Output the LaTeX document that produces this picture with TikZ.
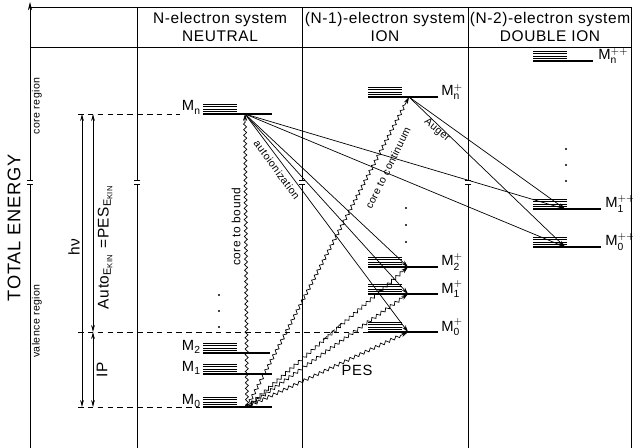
\documentclass[tikz,border=0pt]{standalone}
\usepackage{fontspec}
\setmainfont{Liberation Sans}[LetterSpace=4]
\usetikzlibrary{arrows.meta,decorations.pathmorphing}
\tikzset{
  frame/.style={line width=0.6pt},
  lvl/.style={line width=0.9pt},
  stk/.style={line width=0.6pt},
  tr/.style={-{Stealth[length=5pt,width=3pt]},line width=0.5pt},
  wavy/.style={tr,decorate,decoration={snake,amplitude=1.1pt,segment length=4pt,post length=5pt}},
  dim/.style={{Stealth[length=5pt,width=2.6pt]}-{Stealth[length=5pt,width=2.6pt]},line width=0.5pt},
  guide/.style={dash pattern=on 4pt off 3pt,line width=0.5pt},
  hdr/.style={font=\fontsize{11}{12.5}\selectfont,align=center},
  lab/.style={font=\fontsize{10.5}{12}\selectfont,inner sep=0pt},
  small/.style={font=\fontsize{7.5}{8}\selectfont,inner sep=0pt},
  dot/.style={circle,fill,inner sep=0.6pt}
}
% stack of sub-levels, the level line and the point where transitions meet
\newcommand{\enlevel}[5]{% name, x, y, line length, meeting offset
  \foreach \k in {1,...,4} \draw[stk] (#2,#3-0.6-2.2*\k) -- ++(34,0);
  \draw[lvl] (#2,#3) -- ++(#4,0);
  \coordinate (#1) at (#2+#5,#3);
}
\newcommand{\Ml}[2]{$\mathrm{M}^{#2}_{\mathrm{#1}}$}

\begin{document}
\begin{tikzpicture}[x=0.25mm,y=-0.25mm]
\useasboundingbox (0,0) rectangle (633,448);
% frame, columns, breaks
\foreach \bx in {30,137,302,468} {
  \draw[frame] (\bx,448) -- (\bx,184.5);
  \draw[frame] (\bx-3,184.5) -- (\bx+3,184.5) (\bx-3,180) -- (\bx+3,180);
}
\draw[frame,-{Stealth[length=6pt,width=3pt]}] (30,180) -- (30,2);
\foreach \bx in {137,302,468} \draw[frame] (\bx,180) -- (\bx,7);
\draw[frame] (30,7) -- (631,7) -- (631,448);
\draw[frame] (30,47) -- (631,47);
% headers
\node[hdr] (hN) at (220,27) {N-electron system\\NEUTRAL};
\node[hdr] (hI) at (385,27) {(N-1)-electron system\\ION};
\node[hdr] (hD) at (550,27) {(N-2)-electron system\\DOUBLE ION};
\node[font=\fontsize{13}{13}\selectfont,rotate=90] (ax) at (14,228) {TOTAL ENERGY};
\node[small,rotate=90] (cr) at (37,106) {core region};
\node[small,rotate=90] (vr) at (37,321) {valence region};
% levels
\enlevel{Mn}{203}{114}{69}{42}
\enlevel{M2}{203}{353}{67}{42}
\enlevel{M1}{203}{374}{69}{42}
\enlevel{M0}{203}{407}{69}{44}
\enlevel{Mnp}{368}{97}{70}{41}
\enlevel{M2p}{368}{267}{70}{40}
\enlevel{M1p}{368}{294}{70}{40}
\enlevel{M0p}{368}{332}{70}{40}
\enlevel{Mnpp}{533}{61}{60}{32}
\enlevel{M1pp}{533}{209}{68}{32}
\enlevel{M0pp}{533}{247}{68}{32}
\node[lab,anchor=base east] (lMn) at (201,111) {\Ml{n}{}};
\node[lab,anchor=base east] (lM2) at (201,350) {\Ml{2}{}};
\node[lab,anchor=base east] (lM1) at (201,371) {\Ml{1}{}};
\node[lab,anchor=base east] (lM0) at (201,404) {\Ml{0}{}};
\node[lab,anchor=base west] (lMnp) at (441,96) {\Ml{n}{+}};
\node[lab,anchor=base west] (lM2p) at (441,266) {\Ml{2}{+}};
\node[lab,anchor=base west] (lM1p) at (441,293) {\Ml{1}{+}};
\node[lab,anchor=base west] (lM0p) at (441,331) {\Ml{0}{+}};
\node[lab,anchor=base west] (lMnpp) at (598,60) {\Ml{n}{++}};
\node[lab,anchor=base west] (lM1pp) at (605,208) {\Ml{1}{++}};
\node[lab,anchor=base west] (lM0pp) at (605,246) {\Ml{0}{++}};
\foreach \y in {295,311,327} \node[dot] (dn\y) at (219,\y) {};
\foreach \y in {208,225,242} \node[dot] (di\y) at (406,\y) {};
\foreach \y in {149,165,181} \node[dot] (dd\y) at (566,\y) {};
% energy scale
\coordinate (dA) at (78,114);
\coordinate (dB) at (78,332);
\coordinate (dC) at (78,407);
\draw[guide] (dA) -- ++(102,0);
\draw[guide] (dB) -- ++(290,0);
\draw[guide] (dC) -- ++(122,0);
\draw[dim] (82,114) -- (82,407);
\draw[dim] (93,114) -- (93,332);
\draw[dim] (93,332) -- (93,407);
\node[lab,font=\fontsize{11}{12}\selectfont,rotate=90] (hv) at (74,247) {hν};
\node[lab,font=\fontsize{11}{12}\selectfont,rotate=90] (auto) at (105,247) {Auto\textsubscript{E\textsubscript{KIN}} =PES\textsubscript{E\textsubscript{KIN}}};
\node[lab,font=\fontsize{11}{12}\selectfont,rotate=90] (ip) at (102,370) {IP};
% transitions
\draw[wavy] (M0) -- (Mn);
\draw[wavy] (M0) -- (Mnp);
\foreach \t in {M2p,M1p,M0p} \draw[wavy] (M0) -- (\t);
\foreach \t in {M2p,M1p,M0p,M1pp,M0pp} \draw[tr] (Mn) -- (\t);
\foreach \t in {M1pp,M0pp} \draw[tr] (Mnp) -- (\t);
\draw[guide] (323,340) -- (343,322);
\node[font=\fontsize{8.5}{9}\selectfont,inner sep=0pt,rotate=90] (cb) at (236,227) {core to bound};
\node[small,rotate=-54] (ai) at (277,170) {autoionization};
\node[small,rotate=64] (cc) at (388,168) {core to continuum};
\node[small,rotate=-40] (au) at (437,130) {Auger};
\node[lab] (pes) at (357,370) {PES};
\end{tikzpicture}
\end{document}
